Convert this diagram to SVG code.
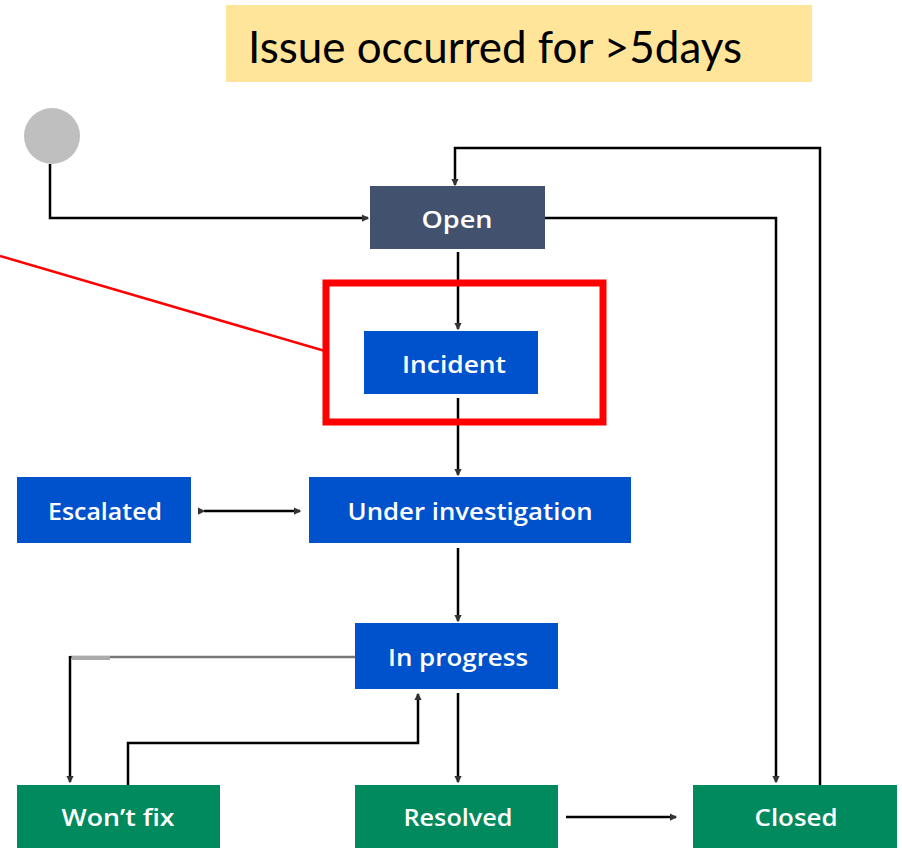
<svg xmlns="http://www.w3.org/2000/svg" width="902" height="848" viewBox="0 0 902 848">
<style>
.lbl{font-family:"Open Sans","Noto Sans","Liberation Sans",sans-serif;font-size:24px;font-weight:600;fill:#ffffff;text-anchor:middle;dominant-baseline:central}
.conn{fill:none;stroke:#000000;stroke-width:2.5}
.blue{fill:#0052cc}
.green{fill:#008a5e}
</style>
<defs>
<marker id="ah" viewBox="0 0 6 6" refX="5" refY="3" markerWidth="3" markerHeight="3" orient="auto" markerUnits="strokeWidth">
<path d="M0,0 L6,3 L0,6 z" fill="#333333"/>
</marker>
</defs>
<rect x="0" y="0" width="902" height="848" fill="#ffffff"/>
<g id="note">
<rect x="226" y="5" width="586" height="77" fill="#ffe599"/>
<text x="248" y="63" font-family="Lato,'Open Sans','Liberation Sans',sans-serif" font-size="44" fill="#000000" textLength="494" lengthAdjust="spacingAndGlyphs">Issue occurred for &gt;5days</text>
</g>
<g id="connectors">
<path class="conn" d="M50,164 V218 H368" marker-end="url(#ah)"/>
<path class="conn" d="M820,785 V148 H455 V185" marker-end="url(#ah)"/>
<path class="conn" d="M545,218 H776 V782" marker-end="url(#ah)"/>
<path class="conn" d="M458,252 V329" marker-end="url(#ah)"/>
<path class="conn" d="M458,398 V475" marker-end="url(#ah)"/>
<path class="conn" d="M204,511 H300" marker-start="url(#ah)" marker-end="url(#ah)"/>
<path class="conn" d="M458,548 V621" marker-end="url(#ah)"/>
<path fill="none" stroke="#777777" stroke-width="2.5" d="M355,657 H70"/>
<path fill="none" stroke="#aaaaaa" stroke-width="4" d="M72,658 H110"/>
<path class="conn" d="M70,656 V782" marker-end="url(#ah)"/>
<path class="conn" d="M128,785 V743 H418 V694" marker-end="url(#ah)"/>
<path class="conn" d="M458,693 V782" marker-end="url(#ah)"/>
<path class="conn" d="M566,817 H676" marker-end="url(#ah)"/>
<path fill="none" stroke="#ff0000" stroke-width="2.5" d="M0,256 L325,351"/>
</g>
<g id="start"><circle cx="52" cy="136" r="28" fill="#bfbfbf"/></g>
<g id="open"><rect x="370" y="186" width="175" height="63" fill="#42526e"/><text class="lbl" x="457" y="218" textLength="71" lengthAdjust="spacingAndGlyphs">Open</text></g>
<g id="highlight"><rect x="326" y="283" width="277" height="139" fill="none" stroke="#ff0000" stroke-width="7"/></g>
<g id="incident"><rect class="blue" x="364" y="331" width="174" height="63"/><text class="lbl" x="454" y="363" textLength="104" lengthAdjust="spacingAndGlyphs">Incident</text></g>
<g id="escalated"><rect class="blue" x="17" y="477" width="174" height="66"/><text class="lbl" x="105" y="510" textLength="114" lengthAdjust="spacingAndGlyphs">Escalated</text></g>
<g id="under-investigation"><rect class="blue" x="309" y="477" width="322" height="66"/><text class="lbl" x="470" y="510" textLength="245" lengthAdjust="spacingAndGlyphs">Under investigation</text></g>
<g id="in-progress"><rect class="blue" x="355" y="623" width="203" height="66"/><text class="lbl" x="458" y="656" textLength="140" lengthAdjust="spacingAndGlyphs">In progress</text></g>
<g id="wont-fix"><rect class="green" x="17" y="785" width="203" height="63"/><text class="lbl" x="118" y="816" textLength="113" lengthAdjust="spacingAndGlyphs">Won’t fix</text></g>
<g id="resolved"><rect class="green" x="355" y="785" width="203" height="63"/><text class="lbl" x="458" y="816" textLength="109" lengthAdjust="spacingAndGlyphs">Resolved</text></g>
<g id="closed"><rect class="green" x="693" y="785" width="204" height="63"/><text class="lbl" x="796" y="816" textLength="83" lengthAdjust="spacingAndGlyphs">Closed</text></g>
</svg>
